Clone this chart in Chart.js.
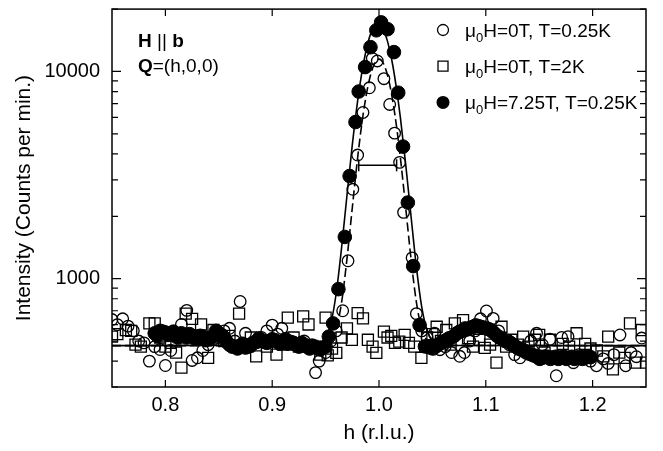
<!DOCTYPE html>
<html>
<head>
<meta charset="UTF-8">
<title>Intensity vs h</title>
<script src="https://cdn.jsdelivr.net/npm/chart.js"></script>
<style>
  body { margin: 0; background: #fff; }
  #wrap { width: 663px; height: 451px; }
</style>
</head>
<body>
<div id="wrap"><canvas id="grafico"></canvas></div>
<script>
  // mu0H = 0T, T = 0.25K (open circles)
  const openH = [0.750,0.755,0.760,0.765,0.770,0.775,0.780,0.785,0.790,0.795,0.800,0.805,0.810,0.815,0.820,0.825,0.830,0.835,0.840,0.845,0.850,0.855,0.860,0.865,0.870,0.875,0.880,0.885,0.890,0.895,0.900,0.905,0.909,0.915,0.920,0.925,0.930,0.935,0.9406,0.944,0.950,0.955,0.960,0.966,0.971,0.9755,0.980,0.985,0.991,0.9937,0.9984,1.0046,1.010,1.0146,1.0193,1.023,1.031,1.035,1.040,1.045,1.052,1.057,1.062,1.068,1.0756,1.080,1.085,1.090,1.095,1.1006,1.1069,1.112,1.117,1.122,1.127,1.132,1.137,1.142,1.1475,1.153,1.160,1.166,1.171,1.177,1.182,1.187,1.193,1.198,1.2036,1.210,1.2146,1.220,1.2256,1.231,1.236,1.241,1.246];
  const openI = [635,600,640,590,560,500,490,400,470,455,381,450,520,601,703,403,415,450,480,510,530,560,576,500,776,545,470,490,520,560,597,540,576,500,480,470,500,460,352,400,440,500,560,700,1220,2700,3950,6340,8340,11570,11240,9230,6930,5040,3640,2090,1260,678,560,520,545,454,470,440,422,440,500,560,640,698,643,560,510,480,430,415,450,500,545,480,510,340,520,525,393,430,420,400,380,410,390,430,535,380,440,420,517];

  // mu0H = 0T, T = 2K (open squares)
  const sqH = [0.750,0.755,0.763,0.768,0.772,0.777,0.785,0.790,0.795,0.800,0.805,0.810,0.815,0.819,0.825,0.8334,0.840,0.845,0.850,0.855,0.860,0.869,0.875,0.880,0.885,0.890,0.895,0.904,0.910,0.9146,0.920,0.925,0.929,0.934,0.940,0.945,0.950,0.952,0.956,0.960,0.965,0.970,0.9746,0.980,0.985,0.9896,0.994,0.9975,1.0046,1.008,1.0115,1.015,1.019,1.024,1.028,1.033,1.0397,1.045,1.050,1.054,1.058,1.063,1.067,1.071,1.0787,1.0834,1.088,1.094,1.099,1.104,1.110,1.1147,1.119,1.124,1.130,1.135,1.140,1.146,1.150,1.155,1.160,1.166,1.172,1.178,1.185,1.193,1.198,1.204,1.210,1.2146,1.219,1.225,1.230,1.235,1.240,1.246,1.250];
  const sqI = [525,540,565,560,480,470,608,608,520,470,490,440,372,678,640,601,415,565,520,500,530,678,480,520,422,500,470,430,480,649,520,470,658,601,470,430,649,426,460,438,520,576,507,682,643,507,470,438,555,520,530,490,497,535,490,470,415,520,540,586,500,565,480,608,631,517,470,507,463,480,393,586,470,507,480,525,470,507,535,440,507,420,484,470,545,484,460,450,422,525,365,440,415,608,393,565,393];

  // mu0H = 7.25T, T = 0.25K (filled circles)
  const fillH = [0.790,0.795,0.800,0.805,0.810,0.815,0.820,0.825,0.830,0.835,0.840,0.845,0.850,0.855,0.860,0.865,0.870,0.875,0.880,0.885,0.890,0.895,0.900,0.905,0.910,0.915,0.920,0.925,0.930,0.935,0.940,0.945,0.950,0.953,0.957,0.962,0.968,0.9725,0.978,0.981,0.987,0.992,0.9975,1.002,1.008,1.014,1.018,1.0225,1.027,1.032,1.038,1.043,1.048,1.053,1.058,1.063,1.068,1.073,1.078,1.083,1.088,1.093,1.098,1.103,1.108,1.113,1.118,1.123,1.128,1.133,1.138,1.143,1.148,1.153,1.158,1.163,1.168,1.173,1.178,1.183,1.188,1.193,1.198];
  const fillI = [545,560,550,540,530,545,520,530,515,525,510,530,545,520,480,470,475,465,480,495,505,490,510,495,500,485,490,470,480,460,470,455,470,525,608,890,1590,3130,5700,8000,10500,13100,15800,17250,16000,12400,7900,4340,2330,1150,597,471,465,470,490,505,520,545,560,570,585,590,580,570,545,520,500,490,470,455,440,430,420,415,420,415,410,420,415,410,420,415,418];
  // the background band of the same scan is denser: in-between points
  const fillH2 = [0.7925,0.7975,0.8025,0.8075,0.8125,0.8175,0.8225,0.8275,0.8325,0.8375,0.8425,0.8475,0.8525,0.8575,0.8625,0.8675,0.8725,0.8775,0.8825,0.8875,0.8925,0.8975,0.9025,0.9075,0.9125,0.9175,0.9225,0.9275,0.9325,0.9375,0.9425,0.9475,1.0455,1.0505,1.0555,1.0605,1.0655,1.0705,1.0755,1.0805,1.0855,1.0905,1.0955,1.1005,1.1055,1.1105,1.1155,1.1205,1.1255,1.1305,1.1355,1.1405,1.1455,1.1505,1.1555,1.1605,1.1655,1.1705,1.1755,1.1805,1.1855,1.1905,1.1955];
  const fillI2 = [530,555,535,555,520,535,540,515,530,505,520,560,535,495,470,460,485,470,490,515,495,500,505,485,510,495,480,490,470,475,460,465,470,460,480,495,515,530,555,575,580,595,585,575,560,530,510,500,480,460,450,435,425,410,420,410,420,415,410,420,415,410,420];

  // fitted curves
  const fitSolidH = [0.75,0.94,0.945,0.95,0.955,0.96,0.965,0.97,0.975,0.98,0.985,0.99,0.995,0.9995,1.004,1.008,1.012,1.016,1.02,1.025,1.03,1.035,1.04,1.045,1.05,1.055,1.06,1.25];
  const fitSolidI = [475,478,485,518,610,855,1415,2520,4420,7220,10600,14000,16300,16920,15980,13970,11330,8530,6000,3560,2000,1140,730,560,500,482,476,475];
  const fitDashH = [0.75,0.945,0.95,0.955,0.96,0.965,0.97,0.975,0.98,0.985,0.99,0.995,1.0,1.005,1.01,1.015,1.02,1.025,1.03,1.035,1.04,1.045,1.05,1.055,1.25];
  const fitDashI = [475,477,482,503,572,770,1245,2200,3840,6130,8660,10690,11475,10690,8660,6130,3840,2200,1245,770,572,503,482,477,475];

  // resolution bar
  const barH = [0.981, 1.0165];
  const barI = [3525, 3525];

  const xTicks = [0.8, 0.9, 1.0, 1.1, 1.2];
  const yTicks = [300,400,500,600,700,800,900,1000,2000,3000,4000,5000,6000,7000,8000,9000,10000,20000];
  const yLabels = [1000, 10000];

  const legendRows = [
    { style: 'open', text: 'H=0T, T=0.25K' },
    { style: 'square', text: 'H=0T, T=2K' },
    { style: 'filled', text: 'H=7.25T, T=0.25K' }
  ];

  const FONT = 'Liberation Sans, Arial, sans-serif';
  const pares = (hs, is) => hs.map((h, i) => ({ x: h, y: is[i] }));

  const moldura = {
    id: 'moldura',
    afterDatasetsDraw(chart) {
      const { ctx, chartArea: a, scales: { x, y } } = chart;
      ctx.save();
      ctx.strokeStyle = '#000';
      ctx.lineWidth = 1.5;
      ctx.strokeRect(a.left, a.top, a.right - a.left, a.bottom - a.top);

      ctx.lineWidth = 1.2;
      ctx.beginPath();
      xTicks.forEach(v => {
        const px = x.getPixelForValue(v);
        ctx.moveTo(px, a.bottom); ctx.lineTo(px, a.bottom - 7);
        ctx.moveTo(px, a.top); ctx.lineTo(px, a.top + 7);
      });
      yTicks.forEach(v => {
        const py = y.getPixelForValue(v);
        const len = yLabels.includes(v) ? 9 : 6;
        ctx.moveTo(a.left, py); ctx.lineTo(a.left + len, py);
        ctx.moveTo(a.right, py); ctx.lineTo(a.right - len, py);
      });
      ctx.stroke();

      // annotation
      ctx.fillStyle = '#000';
      ctx.textBaseline = 'alphabetic';
      ctx.textAlign = 'left';
      let cx = 138;
      ctx.font = 'bold 19px ' + FONT;
      ctx.fillText('H', cx, 47); cx += ctx.measureText('H ').width;
      ctx.font = '19px ' + FONT;
      ctx.fillText('||', cx, 47); cx += ctx.measureText('|| ').width;
      ctx.font = 'bold 19px ' + FONT;
      ctx.fillText('b', cx, 47);
      cx = 138;
      ctx.fillText('Q', cx, 72); cx += ctx.measureText('Q').width;
      ctx.font = '19px ' + FONT;
      ctx.fillText('=(h,0,0)', cx, 72);

      // legend
      legendRows.forEach((r, i) => {
        const ry = 30 + i * 36.2;
        const sx = 443;
        ctx.lineWidth = 1.3;
        ctx.beginPath();
        if (r.style === 'square') {
          ctx.rect(sx - 5, ry - 5, 10, 10);
          ctx.stroke();
        } else if (r.style === 'open') {
          ctx.arc(sx, ry, 5.5, 0, Math.PI * 2);
          ctx.stroke();
        } else {
          ctx.arc(sx, ry, 6.5, 0, Math.PI * 2);
          ctx.fill();
        }
        let tx = 465;
        const base = ry + 7;
        ctx.font = '19px ' + FONT;
        ctx.fillText('\u03bc', tx, base); tx += ctx.measureText('\u03bc').width;
        ctx.font = '13px ' + FONT;
        ctx.fillText('0', tx, base + 5); tx += ctx.measureText('0').width;
        ctx.font = '19px ' + FONT;
        ctx.fillText(r.text, tx, base);
      });
      ctx.restore();
    }
  };

  const ctx = document.getElementById('grafico').getContext('2d');
  new Chart(ctx, {
    type: 'scatter',
    data: {
      datasets: [
        {
          label: 'fit 7.25T', type: 'line', data: pares(fitSolidH, fitSolidI), order: 1,
          borderColor: '#000', borderWidth: 1.6, pointRadius: 0, fill: false,
          cubicInterpolationMode: 'monotone'
        },
        {
          label: 'fit 0T', type: 'line', data: pares(fitDashH, fitDashI), order: 2,
          borderColor: '#000', borderWidth: 1.6, borderDash: [9, 4], pointRadius: 0, fill: false,
          cubicInterpolationMode: 'monotone'
        },
        {
          label: 'resolution', type: 'line', data: pares(barH, barI), order: 3,
          borderColor: '#000', borderWidth: 1.5, pointStyle: 'line', rotation: 90,
          pointRadius: 6, pointBorderWidth: 1.5, pointBorderColor: '#000'
        },
        {
          label: '\u03bc0H=7.25T, T=0.25K', data: pares(fillH, fillI).concat(pares(fillH2, fillI2)), order: 4,
          pointStyle: 'circle', pointRadius: 6.8, backgroundColor: '#000', borderColor: '#000', borderWidth: 1
        },
        {
          label: '\u03bc0H=0T, T=0.25K', data: pares(openH, openI), order: 5,
          pointStyle: 'circle', pointRadius: 5.8, backgroundColor: 'rgba(0,0,0,0)', borderColor: '#000', borderWidth: 1.3
        },
        {
          label: '\u03bc0H=0T, T=2K', data: pares(sqH, sqI), order: 6,
          pointStyle: 'rect', pointRadius: 7.8, backgroundColor: 'rgba(0,0,0,0)', borderColor: '#000', borderWidth: 1.3
        }
      ]
    },
    options: {
      responsive: true,
      maintainAspectRatio: false,
      animation: false,
      layout: { padding: { top: 3, right: 17, left: 0, bottom: 0 } },
      plugins: { legend: { display: false }, tooltip: { enabled: false } },
      scales: {
        x: {
          type: 'linear', min: 0.75, max: 1.25,
          afterFit: s => { s.height = 64; s.paddingLeft = 0; s.paddingRight = 0; },
          afterBuildTicks: s => { s.ticks = xTicks.map(v => ({ value: v })); },
          grid: { display: false, drawTicks: false },
          border: { display: false },
          ticks: { color: '#000', padding: 6, font: { family: FONT, size: 20 }, callback: v => v.toFixed(1) },
          title: { display: true, text: 'h (r.l.u.)', color: '#000', font: { family: FONT, size: 21 }, padding: { bottom: 5 } }
        },
        y: {
          type: 'logarithmic', min: 300, max: 20000,
          afterFit: s => { s.width = 112; s.paddingTop = 0; s.paddingBottom = 0; },
          afterBuildTicks: s => { s.ticks = yLabels.map(v => ({ value: v })); },
          grid: { display: false, drawTicks: false },
          border: { display: false },
          ticks: { color: '#000', padding: 12, autoSkip: false, font: { family: FONT, size: 20 },
            callback: v => String(v) },
          title: { display: true, text: 'Intensity (Counts per min.)', color: '#000', font: { family: FONT, size: 21 }, padding: { top: 12 } }
        }
      }
    },
    plugins: [moldura]
  });
</script>
</body>
</html>
